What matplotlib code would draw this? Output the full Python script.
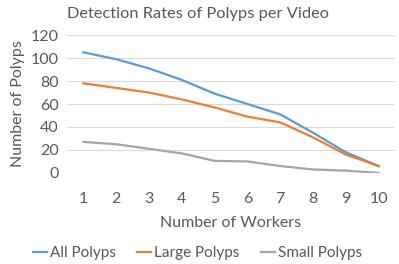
import matplotlib
matplotlib.use("Agg")
import matplotlib.pyplot as plt

# values
workers = [1, 2, 3, 4, 5, 6, 7, 8, 9, 10]
all_polyps = [105, 99, 91, 81, 69, 60, 51, 35, 18, 6]
large_polyps = [78, 74, 70, 64, 57, 49, 44, 31, 16, 6]
small_polyps = [27, 25, 21, 17, 10.5, 10, 6, 3, 2, 0]
yticks = [0, 20, 40, 60, 80, 100, 120]

plt.rcParams['font.family'] = ['Lato', 'DejaVu Sans']
txt = '#595959'

fig = plt.figure(figsize=(3.99, 2.64), dpi=100)
ax = fig.add_axes([0.168, 0.345, 0.822, 0.522])

ax.plot(workers, all_polyps, color='#5B9BD5', lw=1.6, label='All Polyps')
ax.plot(workers, large_polyps, color='#ED7D31', lw=1.6, label='Large Polyps')
ax.plot(workers, small_polyps, color='#A5A5A5', lw=1.6, label='Small Polyps')

ax.set_xlim(0.5, 10.5)
ax.set_ylim(0, 120)
ax.set_xticks(workers)
ax.set_yticks(yticks)
ax.grid(axis='y', color='#D9D9D9', lw=0.8)
ax.set_axisbelow(True)
for s in ax.spines.values():
    s.set_visible(False)
ax.tick_params(length=0, labelsize=11.5, colors=txt, pad=14)
ax.tick_params(axis='y', pad=6)

ax.set_title('Detection Rates of Polyps per Video', fontsize=11.8, color=txt,
             loc='left', x=-0.0, pad=12.5)
ax.set_xlabel('Number of Workers', fontsize=11.5, color=txt, labelpad=7)
ax.set_ylabel('Number of Polyps', fontsize=11.5, color=txt, labelpad=4)

fig.legend(loc='center', bbox_to_anchor=(0.495, 0.04), ncol=3, frameon=False,
           fontsize=11, handlelength=0.9, handletextpad=0.2, columnspacing=1.4,
           labelcolor=txt)

fig.savefig('out.png', dpi=100)
